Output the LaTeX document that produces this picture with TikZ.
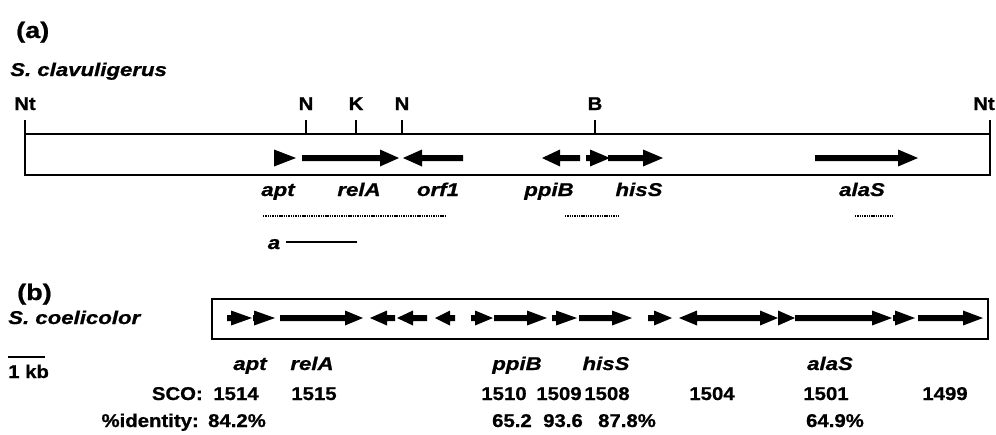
\documentclass[tikz,border=0pt]{standalone}
\usepackage{fontspec}
\setmainfont{Liberation Sans}[BoldFeatures={FakeBold=0.8},BoldItalicFeatures={FakeBold=0.8}]
\usetikzlibrary{calc}

% gene arrow as a filled polygon: tail x, tip x, centre y, head length, head half-height
\newcommand{\gene}[5]{%
  \pgfmathsetmacro\gdir{(#2>#1)?1:-1}%
  \pgfmathsetmacro\ghb{#2-\gdir*#4}%
  \fill (#1,#3-3) -- (\ghb,#3-3) -- (\ghb,#3-#5) -- (#2,#3)
        -- (\ghb,#3+#5) -- (\ghb,#3+3) -- (#1,#3+3) -- cycle;}

\begin{document}
\begin{tikzpicture}[x=1pt,y=-1pt,
  every node/.style={inner sep=0pt,xscale=1.1,font=\bfseries\fontsize{18.5}{20}\selectfont},
  panel/.style={xscale=1.2/1.1,font=\bfseries\fontsize{22.5}{24}\selectfont},
  gname/.style={xscale=1.2/1.1,font=\bfseries\itshape\fontsize{18.5}{20}\selectfont},
  mapline/.style={line width=2pt},
  tick/.style={line width=1.5pt},
  overlap/.style={line width=1.3pt,dash pattern=on 1.4pt off 0.9pt}]
\useasboundingbox (0,0) rectangle (996,434);

% ---------------- (a) S. clavuligerus ----------------
\node[panel,anchor=base west] (pa) at (16,38) {(a)};
\node[gname,anchor=base west] (sclav) at (10,76) {S. clavuligerus};

% restriction sites
\foreach \nm/\xx/\lab in {nt1/25/Nt, n1/306/N, k1/356/K, n2/402/N, b1/595/B}{
  \node[anchor=base] (\nm) at (\xx,110) {\lab};
  \coordinate (\nm t) at (\xx,120);
  \coordinate (\nm b) at (\xx,134);
  \draw[tick] (\nm t) -- (\nm b);
}
\node[anchor=base] (nt2) at (984,110) {Nt};
\coordinate (nt2t) at (990,120);
\coordinate (nt2b) at (990,134);
\draw[tick] (nt2t) -- (nt2b);

% cloned fragment
\draw[mapline] (25,134) rectangle (990,175);

% genes
\gene{274}{296}{158}{22}{8.5}
\gene{302}{399}{158}{19}{8.5}
\gene{463}{403}{158}{19}{8.5}
\gene{580}{542}{158}{18}{8.5}
\gene{586}{610}{158}{20}{8.5}
\gene{608}{663}{158}{20}{8.5}
\gene{815}{918}{158}{20}{8.5}

\node[gname,anchor=base] (aapt)  at (278,196) {apt};
\node[gname,anchor=base] (arelA) at (359,196) {relA};
\node[gname,anchor=base] (aorf)  at (438,196) {orf1};
\node[gname,anchor=base] (appiB) at (549,196) {ppiB};
\node[gname,anchor=base] (ahisS) at (639,196) {hisS};
\node[gname,anchor=base] (aalaS) at (862,196) {alaS};

% sequenced regions
\draw[overlap] (263,216) -- (445,216);
\draw[overlap] (565,216) -- (620,216);
\draw[overlap] (855,216) -- (894,216);

% probe a
\node[gname,anchor=base] (probe) at (274,249) {a};
\coordinate (pr1) at (286,242);
\coordinate (pr2) at (357,242);
\draw[line width=1.5pt] (pr1) -- (pr2);

% ---------------- (b) S. coelicolor ----------------
\node[panel,anchor=base west] (pb) at (17,300) {(b)};
\node[gname,anchor=base west] (scoel) at (8,324) {S. coelicolor};

\draw[mapline] (212,299) rectangle (988,339);

\gene{227}{252}{318}{21}{7.5}
\gene{253}{275}{318}{21}{7.5}
\gene{280}{363}{318}{18}{7.5}
\gene{395}{370}{318}{17}{7.5}
\gene{427}{397}{318}{16}{7.5}
\gene{455}{435}{318}{15}{7.5}
\gene{471}{493}{318}{18}{7.5}
\gene{494}{547}{318}{20}{7.5}
\gene{552}{577}{318}{21}{7.5}
\gene{579}{632}{318}{20}{7.5}
\gene{648}{672}{318}{18}{7.5}
\gene{758}{679}{318}{18}{7.5}
\gene{758}{778}{318}{18}{7.5}
\gene{778}{795}{318}{17}{7.5}
\gene{795}{892}{318}{20}{7.5}
\gene{893}{915}{318}{20}{7.5}
\gene{918}{983}{318}{20}{7.5}

% scale bar
\coordinate (sb1) at (8,357);
\coordinate (sb2) at (45,357);
\draw[line width=2pt] (sb1) -- (sb2);
\node[anchor=base west] (kb) at (8,378) {1 kb};

% gene names
\node[gname,anchor=base] (bapt)  at (250,370) {apt};
\node[gname,anchor=base] (brelA) at (312,370) {relA};
\node[gname,anchor=base] (bppiB) at (517,370) {ppiB};
\node[gname,anchor=base] (bhisS) at (606,370) {hisS};
\node[gname,anchor=base] (balaS) at (830,370) {alaS};

% SCO numbers
\node[anchor=base east] (sco) at (203,400) {SCO:};
\foreach \nm/\xx/\lab in {s1/236/1514, s2/314/1515, s3/504/1510, s4/559/1509,
                          s5/607/1508, s6/712/1504, s7/826/1501, s8/945/1499}{
  \node[anchor=base] (\nm) at (\xx,400) {\lab};
}

% identities
\node[anchor=base east] (ident) at (199,427) {\%identity:};
\node[anchor=base] (i1) at (237,427) {84.2\%};
\node[anchor=base] (i2) at (512,427) {65.2};
\node[anchor=base] (i3) at (563,427) {93.6};
\node[anchor=base] (i4) at (627,427) {87.8\%};
\node[anchor=base] (i5) at (835,427) {64.9\%};
\end{tikzpicture}
\end{document}
